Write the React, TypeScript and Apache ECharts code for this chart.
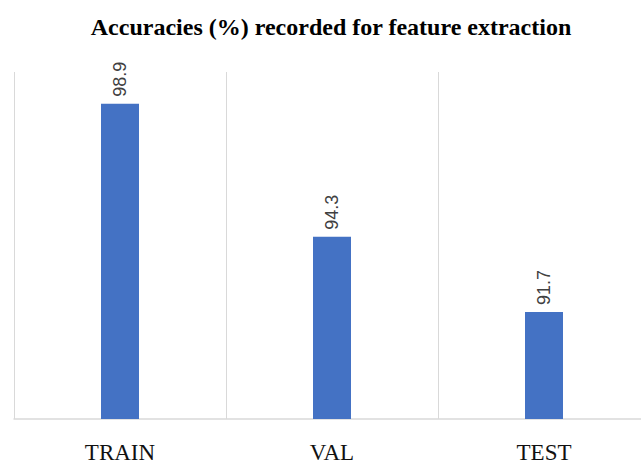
import React, { useEffect, useRef } from "react";
import * as echarts from "echarts";

const categories = ["TRAIN", "VAL", "TEST"];
const accuracies = [98.9, 94.3, 91.7];
const yMin = 88;
const yMax = 100;

export default function App() {
  const ref = useRef<HTMLDivElement>(null);

  useEffect(() => {
    document.body.style.margin = "0";
    if (!ref.current) return;
    const chart = echarts.init(ref.current, undefined, { renderer: "svg" });
    chart.setOption({
      animation: false,
      backgroundColor: "#ffffff",
      title: {
        text: "Accuracies (%) recorded for feature extraction",
        left: 326,
        textAlign: "center",
        top: 10,
        textStyle: {
          fontFamily: "'Liberation Serif', 'Times New Roman', serif",
          fontSize: 24,
          fontWeight: "bold",
          color: "#000000",
        },
      },
      grid: { left: 14, right: 0, top: 72, bottom: 42 },
      xAxis: {
        type: "category",
        data: categories,
        boundaryGap: true,
        axisLine: { show: true, lineStyle: { color: "#d9d9d9", width: 1.5 } },
        axisTick: { show: false },
        splitLine: { show: true, lineStyle: { color: "#d9d9d9", width: 1 } },
        axisLabel: {
          margin: 22,
          fontFamily: "'Liberation Serif', 'Times New Roman', serif",
          fontSize: 23,
          color: "#111111",
        },
      },
      yAxis: {
        type: "value",
        min: yMin,
        max: yMax,
        show: false,
        splitLine: { show: false },
      },
      series: [
        {
          type: "bar",
          data: accuracies,
          barWidth: 38,
          itemStyle: { color: "#4472c4" },
          label: {
            show: true,
            position: "top",
            distance: 7,
            rotate: 90,
            align: "left",
            verticalAlign: "middle",
            fontFamily: "'Liberation Sans', Arial, sans-serif",
            fontSize: 18,
            color: "#404040",
            formatter: (p: any) => p.value.toFixed(1),
          },
        },
      ],
    });
    return () => chart.dispose();
  }, []);

  return (
    <div style={{ width: 641, height: 464, overflow: "hidden", position: "relative" }}>
      <div ref={ref} style={{ width: 650, height: 464 }} />
    </div>
  );
}
